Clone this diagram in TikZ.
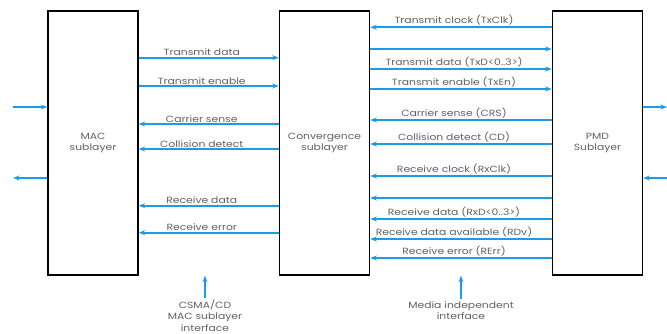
\documentclass[tikz,border=0pt]{standalone}
\usepackage{fontspec}
\setmainfont{Poppins}[FakeStretch=1.2]
\usetikzlibrary{arrows.meta}
\definecolor{wire}{HTML}{1E9BE6}
\definecolor{ink}{HTML}{606060}

\begin{document}
\begin{tikzpicture}[x=1pt,y=-1pt,
  layer/.style={draw=black, line width=1.5pt, minimum width=90pt, minimum height=264pt,
                inner sep=0pt, align=center, text=ink, font=\fontsize{9}{11.5}\selectfont},
  sig/.style={draw=wire, line width=1.7pt, -{Stealth[length=6.5pt,width=5pt]}},
  lbl/.style={above=0pt, xshift=-7pt, text=ink, font=\fontsize{9}{10}\selectfont, inner sep=1pt},
  note/.style={text=ink, align=center, font=\fontsize{9}{11.5}\selectfont, inner sep=0pt}]
\useasboundingbox (0,0) rectangle (667,334);

% the three sublayers
\node[layer] (mac)  at (93,143)    {MAC\\sublayer};
\node[layer] (conv) at (324.5,143) {Convergence\\sublayer};
\node[layer] (pmd)  at (597.5,143) {PMD\\Sublayer};

% MAC <-> convergence signals
\draw[sig] (mac.east |- 0,57.7)  -- node[lbl] {Transmit data}    (conv.west |- 0,57.7);
\draw[sig] (mac.east |- 0,86)    -- node[lbl] {Transmit enable}  (conv.west |- 0,86);
\draw[sig] (conv.west |- 0,124)  -- node[lbl] {Carrier sense}    (mac.east |- 0,124);
\draw[sig] (conv.west |- 0,149)  -- node[lbl] {Collision detect} (mac.east |- 0,149);
\draw[sig] (conv.west |- 0,205.7) -- node[lbl] {Receive data}    (mac.east |- 0,205.7);
\draw[sig] (conv.west |- 0,232.7) -- node[lbl] {Receive error}   (mac.east |- 0,232.7);

% convergence <-> PMD signals (MII)
\draw[sig] (pmd.west |- 0,27.3) -- node[lbl] {Transmit clock (TxClk)} (conv.east |- 0,27.3);
\draw[sig] (conv.east |- 0,49)  -- (pmd.west |- 0,49);
\draw[sig] (conv.east |- 0,69)  -- node[lbl] {Transmit data (TxD<0..3>)} (pmd.west |- 0,69);
\draw[sig] (conv.east |- 0,89)  -- node[lbl] {Transmit enable (TxEn)} (pmd.west |- 0,89);
\draw[sig] (pmd.west |- 0,120)  -- node[lbl] {Carrier sense (CRS)} (conv.east |- 0,120);
\draw[sig] (pmd.west |- 0,144)  -- node[lbl] {Collision detect (CD)} (conv.east |- 0,144);
\draw[sig] (pmd.west |- 0,176)  -- node[lbl] {Receive clock (RxClk)} (conv.east |- 0,176);
\draw[sig] (pmd.west |- 0,198)  -- (conv.east |- 0,198);
\draw[sig] (pmd.west |- 0,219)  -- node[lbl] {Receive data (RxD<0..3>)} (conv.east |- 0,219);
\draw[sig] (pmd.west |- 0,239)  -- node[lbl] {Receive data available (RDv)} (conv.east |- 0,239);
\draw[sig] (pmd.west |- 0,258)  -- node[lbl] {Receive error (RErr)} (conv.east |- 0,258);

% external connections
\coordinate (macIn)  at (13,107);
\coordinate (macOut) at (13,178);
\coordinate (pmdOut) at (667,107);
\coordinate (pmdIn)  at (667,178);
\draw[sig] (macIn) -- (mac.west |- macIn);
\draw[sig] (mac.west |- macOut) -- (macOut);
\draw[sig] (pmd.east |- pmdOut) -- (pmdOut);
\draw[sig] (pmdIn) -- (pmd.east |- pmdIn);

% interface markers
\node[note] (csma) at (205,315.5) {CSMA/CD\\MAC sublayer\\interface};
\node[note] (mii)  at (461,310.5) {Media independent\\interface};
\draw[sig] (csma.north) ++(0,-2) coordinate (csmaTop) (csmaTop) -- (csmaTop |- mac.south);
\draw[sig] (mii.north) ++(0,-2) coordinate (miiTop) (miiTop) -- (miiTop |- mac.south);
\end{tikzpicture}
\end{document}
